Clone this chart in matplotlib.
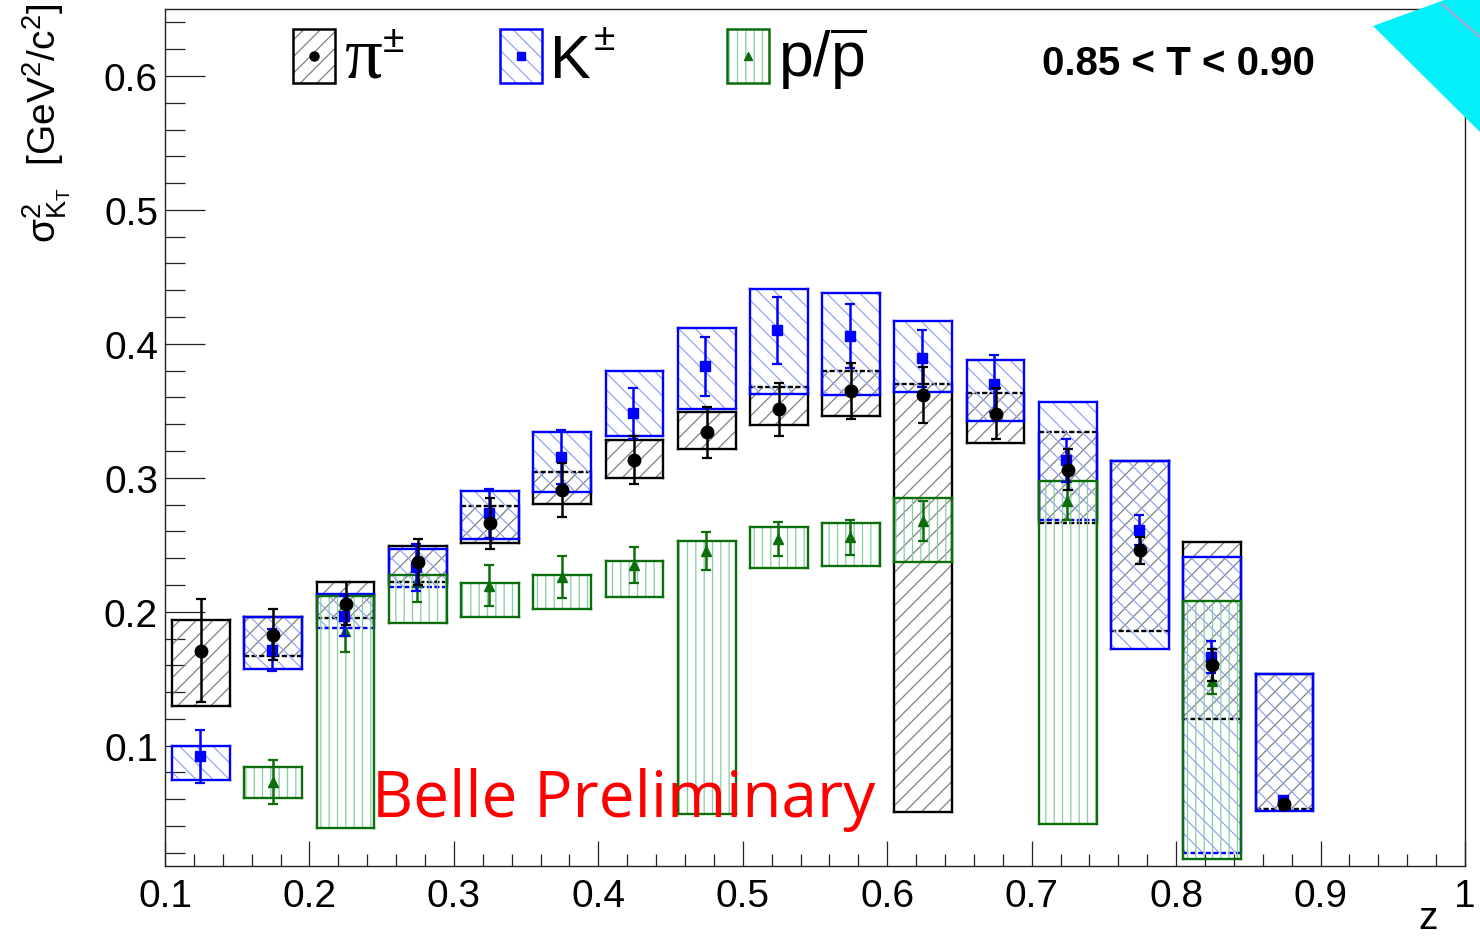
import matplotlib
matplotlib.use('Agg')
import matplotlib.pyplot as plt
from matplotlib.patches import Rectangle, Polygon
from matplotlib.lines import Line2D
from matplotlib.ticker import MultipleLocator, FuncFormatter
import numpy as np

plt.rcParams['font.family'] = ['Liberation Sans', 'DejaVu Sans']
plt.rcParams['mathtext.fontset'] = 'custom'
plt.rcParams['mathtext.rm'] = 'Liberation Sans'
plt.rcParams['mathtext.it'] = 'Liberation Sans:italic'
plt.rcParams['mathtext.bf'] = 'Liberation Sans:bold'
plt.rcParams['hatch.linewidth'] = 0.9

# z bins (centres), box half width 0.02
z_bins = [0.125, 0.175, 0.225, 0.275, 0.325, 0.375, 0.425, 0.475,
          0.525, 0.575, 0.625, 0.675, 0.725, 0.775, 0.825, 0.875]

# pions
pi_val = [0.171, 0.183, 0.206, 0.237, 0.266, 0.291, 0.313, 0.334,
          0.351, 0.365, 0.362, 0.348, 0.306, 0.246, 0.160, 0.0565]
pi_stat = [0.0385, 0.019, 0.016, 0.017, 0.019, 0.020, 0.018, 0.019,
           0.020, 0.021, 0.021, 0.0194, 0.0153, 0.010, 0.012, 0.0]
pi_lo = [0.130, 0.167, 0.195, 0.2224, 0.2513, 0.2804, 0.2996, 0.3214,
         0.3396, 0.3463, 0.0507, 0.3257, 0.266, 0.1858, 0.1199, 0.0525]
pi_hi = [0.1936, 0.1963, 0.2219, 0.2493, 0.2791, 0.304, 0.3284, 0.3488,
         0.3679, 0.3799, 0.3704, 0.363, 0.3343, 0.3127, 0.2522, 0.1535]

# kaons
k_val = [0.0921, 0.1714, 0.197, 0.2331, 0.2734, 0.3157, 0.3483, 0.3831,
         0.4102, 0.406, 0.3891, 0.3704, 0.3132, 0.261, 0.1664, 0.0597]
k_stat = [0.0196, 0.0157, 0.015, 0.0175, 0.018, 0.020, 0.019, 0.022,
          0.025, 0.024, 0.021, 0.0215, 0.016, 0.011, 0.012, 0.0]
k_lo = [0.0742, 0.1572, 0.1878, 0.2187, 0.2543, 0.2896, 0.3313, 0.3513,
        0.3625, 0.3617, 0.3637, 0.3425, 0.2687, 0.1722, 0.0197, 0.0515]
k_hi = [0.1, 0.1963, 0.2132, 0.2468, 0.2903, 0.3339, 0.3796, 0.4122,
        0.4413, 0.4376, 0.4172, 0.3881, 0.3563, 0.3127, 0.241, 0.1535]

# protons
p_z = [0.175, 0.225, 0.275, 0.325, 0.375, 0.425, 0.475, 0.525,
       0.575, 0.625, 0.725, 0.825]
p_val = [0.0731, 0.1858, 0.222, 0.2194, 0.2257, 0.2351, 0.2455, 0.2543,
         0.2555, 0.2679, 0.2828, 0.1485]
p_stat = [0.0165, 0.016, 0.0145, 0.0153, 0.0157, 0.0133, 0.014, 0.0128,
          0.013, 0.015, 0.014, 0.010]
p_lo = [0.0607, 0.0384, 0.1916, 0.1958, 0.2023, 0.2107, 0.049, 0.2324,
        0.2339, 0.2369, 0.0416, 0.0154]
p_hi = [0.0843, 0.2115, 0.2274, 0.2212, 0.2276, 0.2381, 0.253, 0.263,
        0.266, 0.2846, 0.2978, 0.2078]

HW = 0.02
W, H = 1480, 937

species = [
    dict(z=z_bins, v=pi_val, e=pi_stat, lo=pi_lo, hi=pi_hi, c='black',
         hc='#808080', hatch='//', m='o', ms=9, dx=0.0),
    dict(z=z_bins, v=k_val, e=k_stat, lo=k_lo, hi=k_hi, c='#0000ff',
         hc='#94a4f2', hatch='\\\\', m='s', ms=7, dx=-0.001),
    dict(z=p_z, v=p_val, e=p_stat, lo=p_lo, hi=p_hi, c='#0b6e0b',
         hc='#86cda2', hatch='||', m='^', ms=7, dx=-0.0005),
]

fig = plt.figure(figsize=(W / 100, H / 100), dpi=100)
ax = fig.add_axes([165 / W, 1 - 866.7 / H, 1300 / W, 856.7 / H])


def fp(x, y):
    return (x / W, 1 - y / H)


for i, sp in enumerate(species):
    later = species[i + 1:]
    for z, lo, hi in zip(sp['z'], sp['lo'], sp['hi']):
        ax.add_patch(Rectangle((z - HW, lo), 2 * HW, hi - lo, fill=False,
                               hatch=sp['hatch'], edgecolor=sp['hc'], lw=0,
                               zorder=2 + i))
        for xx in (z - HW, z + HW):
            ax.plot([xx, xx], [lo, hi], color=sp['c'], lw=1.7,
                    solid_capstyle='projecting', zorder=3 + i)
        for y in (lo, hi):
            # an edge lying inside a box drawn later shows up dashed
            inside = False
            for o in later:
                for z2, l2, h2 in zip(o['z'], o['lo'], o['hi']):
                    if abs(z2 - z) < 1e-6 and l2 + 1e-4 < y < h2 - 1e-4:
                        inside = True
            ls = (0, (2.2, 1.0)) if inside else '-'
            ax.plot([z - HW, z + HW], [y, y], color=sp['c'], lw=1.7, ls=ls,
                    solid_capstyle='projecting', zorder=3 + i)

for i, sp in reversed(list(enumerate(species))):
    ax.errorbar(np.array(sp['z']) + sp['dx'], sp['v'], yerr=sp['e'],
                fmt=sp['m'], color=sp['c'], ms=sp['ms'], capsize=3.5,
                elinewidth=1.8, capthick=1.6, zorder=12 - i)

ax.set_xlim(0.1, 1.0)
ax.set_ylim(0.0104, 0.65)
ax.xaxis.set_major_locator(MultipleLocator(0.1))
ax.xaxis.set_minor_locator(MultipleLocator(0.02))
ax.yaxis.set_major_locator(MultipleLocator(0.1))
ax.yaxis.set_minor_locator(MultipleLocator(0.02))
ax.xaxis.set_major_formatter(FuncFormatter(lambda v, p: f'{v:g}'))
ax.yaxis.set_major_formatter(FuncFormatter(lambda v, p: f'{v:g}'))
ax.tick_params(axis='both', which='both', direction='in', width=0.9,
               colors='#222222', labelcolor='black', labelsize=28)
ax.tick_params(axis='y', which='major', length=29, pad=5)
ax.tick_params(axis='y', which='minor', length=14.5)
ax.tick_params(axis='x', which='major', length=18, pad=9)
ax.tick_params(axis='x', which='minor', length=9)
for s in ax.spines.values():
    s.set_linewidth(1.0)
    s.set_color('#222222')

# axis titles
fig.text(*fp(47, 3), r'$\mathregular{\sigma^{2}_{K_{T}}}$  [GeV$^{2}$/c$^{2}$]',
         rotation=90, ha='center', va='top', fontsize=28)
fig.text(*fp(1428, 929), 'z', ha='center', va='baseline', fontsize=28)

# legend
leg = [
    ('//', '#808080', 'black', 'o', 6.5, 293),
    ('\\\\', '#94a4f2', '#0000ff', 's', 6, 500),
    ('||', '#86cda2', '#0b6e0b', '^', 6, 727),
]
for hatch, hc, c, m, ms, x0 in leg:
    fig.add_artist(Rectangle(fp(x0, 84), 42 / W, 54 / H, fill=False,
                             hatch=hatch, edgecolor=hc, lw=0,
                             transform=fig.transFigure))
    fig.add_artist(Rectangle(fp(x0, 84), 42 / W, 54 / H, fill=False,
                             edgecolor=c, lw=1.8, transform=fig.transFigure))
    fig.add_artist(Line2D([(x0 + 21) / W], [1 - 57 / H], marker=m, ms=ms,
                          color=c, transform=fig.transFigure))

fig.text(*fp(345, 78), 'π', family='Liberation Serif', fontsize=54,
         ha='left', va='baseline')
fig.text(*fp(383, 52), '±', fontsize=28, ha='left', va='baseline')
fig.text(*fp(550, 78), 'K', fontsize=44, ha='left', va='baseline')
fig.text(*fp(594, 50), '±', fontsize=28, ha='left', va='baseline')
fig.text(*fp(778, 78), r'$\mathregular{p/\overline{p}}$', fontsize=45,
         ha='left', va='baseline')

fig.text(*fp(1042, 75), '0.85 < T < 0.90', fontsize=29, fontweight='bold',
         ha='left', va='baseline')

fig.text(*fp(372, 816.7), 'Belle Preliminary', family='Open Sans',
         color='#ff0000', fontsize=46, ha='left', va='baseline', zorder=20)

# slide decoration in the corner
fig.add_artist(Polygon([fp(1373, 27), fp(1447, 0), fp(1480, 0), fp(1480, 133)],
                       closed=True, color='#04f0f8', lw=0,
                       transform=fig.transFigure, zorder=30))
fig.add_artist(Line2D([1442 / W, 1.0], [1 - 5 / H, 1 - 38 / H], color='#b89ccc',
                      lw=1.5, transform=fig.transFigure, zorder=31))

fig.savefig('out.png', dpi=100, facecolor='white')
